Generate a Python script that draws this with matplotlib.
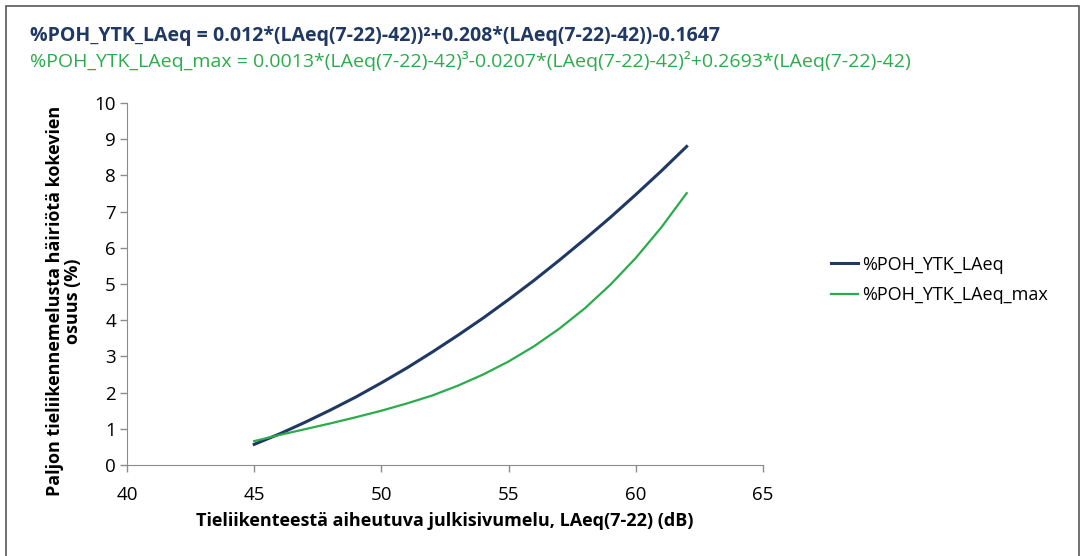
import matplotlib.pyplot as plt
from matplotlib.patches import Rectangle

# Values (x = LAeq(7-22) in dB, y = share in %)
laeq_db = [45, 46, 47, 48, 49, 50, 51, 52, 53, 54, 55, 56, 57, 58, 59, 60, 61, 62]
poh_laeq = [0.57, 0.86, 1.18, 1.52, 1.88, 2.27, 2.68, 3.12, 3.58, 4.06,
            4.57, 5.10, 5.66, 6.24, 6.84, 7.47, 8.12, 8.80]
poh_laeq_max = [0.66, 0.83, 0.99, 1.15, 1.32, 1.50, 1.70, 1.92, 2.19, 2.50,
                2.86, 3.28, 3.77, 4.33, 4.98, 5.72, 6.56, 7.51]

series_names = ["%POH_YTK_LAeq", "%POH_YTK_LAeq_max"]
eq_laeq = "%POH_YTK_LAeq = 0.012*(LAeq(7-22)-42))²+0.208*(LAeq(7-22)-42))-0.1647"
eq_laeq_max = ("%POH_YTK_LAeq_max = 0.0013*(LAeq(7-22)-42)³-0.0207*(LAeq(7-22)-42)²"
               "+0.2693*(LAeq(7-22)-42)")
x_ticks = [40, 45, 50, 55, 60, 65]
y_ticks = list(range(0, 11))

NAVY = "#1f3864"
GREEN = "#2aac4c"
AXIS_GREY = "#8c8c8c"
INK = "#000000"

plt.rcParams["font.family"] = ["Open Sans", "DejaVu Sans"]

fig = plt.figure(figsize=(10.81, 5.56), dpi=100)
fig.patch.set_facecolor("white")

# grey outer frame like the chart-area border (open at the bottom)
fig.add_artist(Rectangle((6 / 1081, -0.05), (1079 - 6) / 1081, 1 - 6 / 556 + 0.05,
                         transform=fig.transFigure, fill=False,
                         edgecolor="#595959", linewidth=1.2))

ax = fig.add_axes([127 / 1081, 1 - 465 / 556, (763 - 127) / 1081, (465 - 103) / 556])

ax.plot(laeq_db, poh_laeq, color=NAVY, linewidth=2.2, label=series_names[0])
ax.plot(laeq_db, poh_laeq_max, color=GREEN, linewidth=1.6, label=series_names[1])

ax.set_xlim(40, 65)
ax.set_ylim(0, 10)
ax.set_xticks(x_ticks)
ax.set_yticks(y_ticks)
ax.tick_params(axis="both", labelsize=13.5, colors=AXIS_GREY, labelcolor=INK,
               length=5, width=1, direction="out")
ax.tick_params(axis="x", pad=10)
ax.tick_params(axis="y", pad=3)

for spine in ("top", "right"):
    ax.spines[spine].set_visible(False)
for spine in ("left", "bottom"):
    ax.spines[spine].set_color(AXIS_GREY)

ax.set_xlabel("Tieliikenteestä aiheutuva julkisivumelu, LAeq(7-22) (dB)",
              fontsize=13, fontweight="bold", color=INK)
ax.xaxis.set_label_coords(0.5, -(521 - 465) / 362, transform=ax.transAxes)
ax.xaxis.label.set_va("center")
ax.set_ylabel("Paljon tieliikennemelusta häiriötä kokevien\nosuus (%)",
              fontsize=13, fontweight="bold", color=INK, linespacing=1.0)
ax.yaxis.set_label_coords(-(127 - 82) / 636, (465 - 301) / 362)

fig.text(30 / 1081, 1 - 36 / 556, eq_laeq, fontsize=14, fontweight="bold",
         color=NAVY, va="center", ha="left")
fig.text(30 / 1081, 1 - 61 / 556, eq_laeq_max, fontsize=14,
         color=GREEN, va="center", ha="left")

fig.legend(loc="center left", bbox_to_anchor=(815 / 1081, 1 - 280 / 556),
           frameon=False, fontsize=13, handlelength=1.5, handletextpad=0.2,
           labelspacing=0.7)

fig.savefig("out.png", dpi=100, facecolor="white")
